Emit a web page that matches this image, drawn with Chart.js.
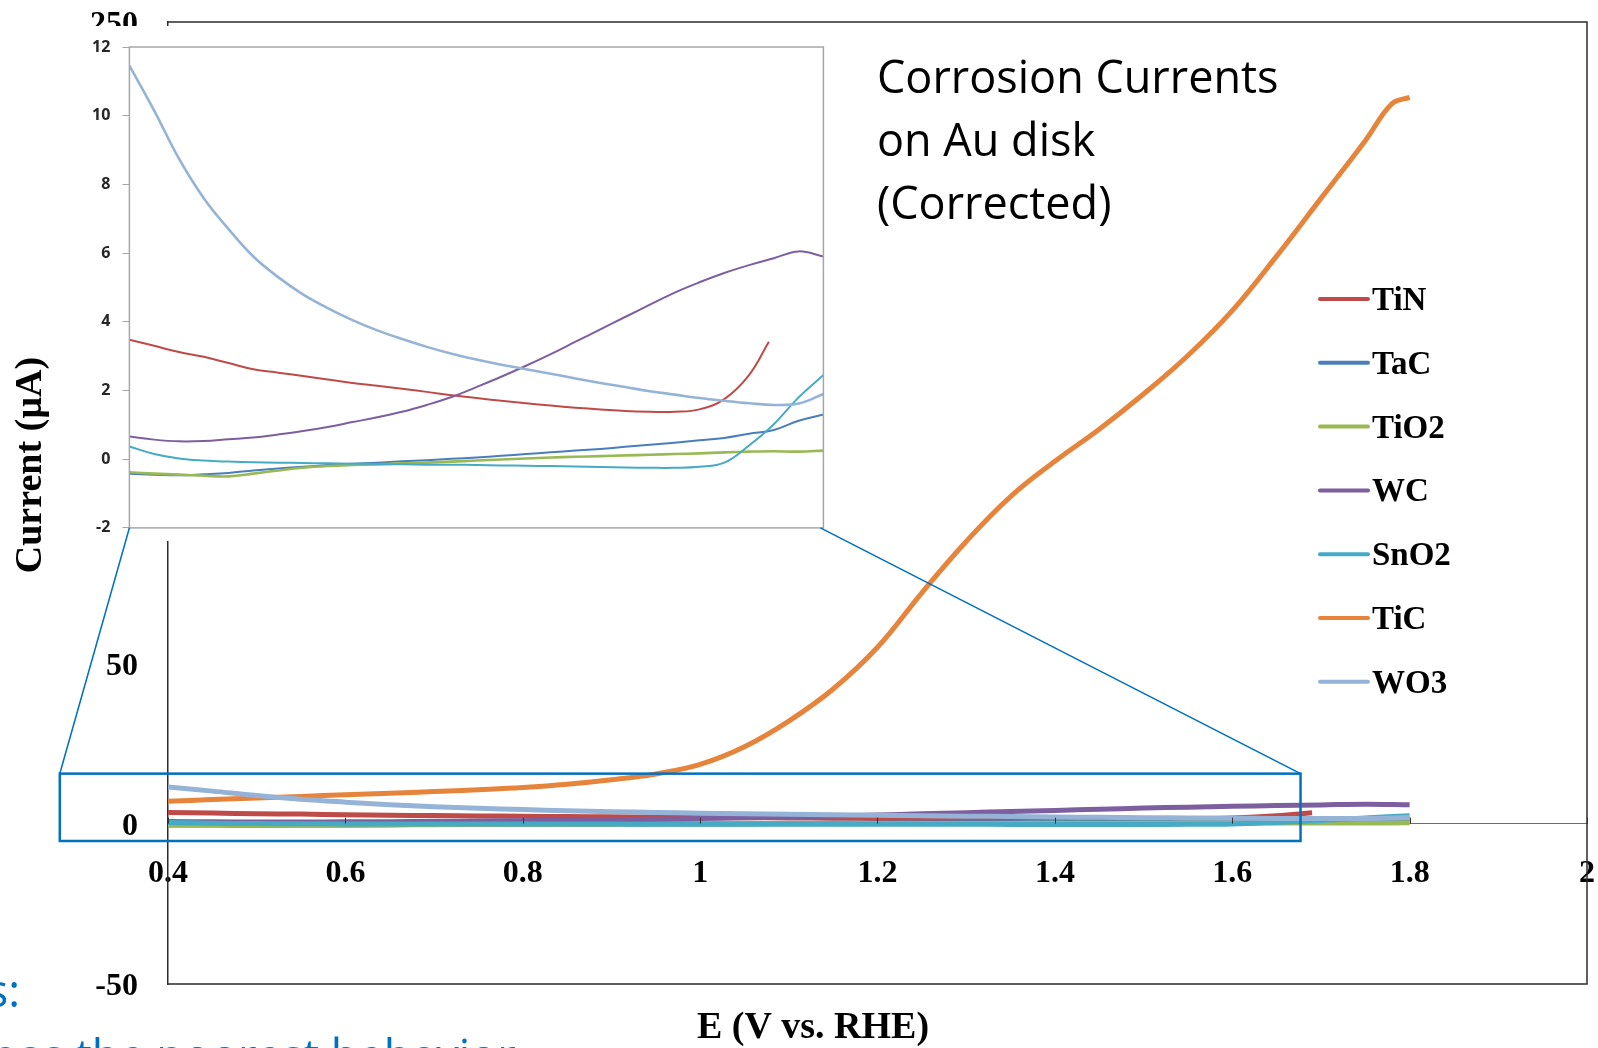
<!DOCTYPE html>
<html>
<head>
<meta charset="utf-8">
<title>Corrosion Currents on Au disk</title>
<script src="https://cdn.jsdelivr.net/npm/chart.js@4.4.1/dist/chart.umd.min.js"></script>
<style>
  html, body { margin: 0; padding: 0; background: #fff; overflow: hidden; }
  #wrap { position: relative; width: 1598px; height: 1048px; }
  #wrap canvas { position: absolute; left: 0; top: 0; }
</style>
</head>
<body>
<div id="wrap">
  <canvas id="main" width="1598" height="1048"></canvas>
  <canvas id="inset" width="1598" height="1048"></canvas>
</div>
<script>
// ---- potential grids (V vs. RHE) ----
const potential = [0.40,0.45,0.50,0.55,0.60,0.65,0.70,0.75,0.80,0.85,0.90,0.95,1.00,1.05,1.10,
                   1.15,1.20,1.25,1.30,1.35,1.40,1.45,1.50,1.55,1.60,1.65,1.70,1.75,1.80];
const potentialTiN = [0.40,0.45,0.50,0.55,0.60,0.65,0.70,0.75,0.80,0.85,0.90,0.95,1.00,1.05,1.10,
                      1.15,1.20,1.25,1.30,1.35,1.40,1.45,1.50,1.55,1.60,1.65,1.69];
const potentialTiC = [0.40,0.45,0.50,0.55,0.60,0.65,0.70,0.75,0.80,0.85,0.90,0.95,1.00,1.05,1.10,
                      1.15,1.20,1.25,1.30,1.35,1.40,1.45,1.50,1.55,1.60,1.65,1.70,1.75,1.78,1.80];

// ---- corrosion currents (µA) ----
const currentTiN  = [3.48,3.30,3.12,2.98,2.80,2.62,2.52,2.42,2.32,2.22,2.14,2.05,1.96,1.86,1.78,
                     1.70,1.63,1.56,1.50,1.45,1.40,1.38,1.38,1.45,1.75,2.45,3.42];
const currentTaC  = [-0.42,-0.45,-0.47,-0.44,-0.40,-0.33,-0.27,-0.22,-0.17,-0.13,-0.10,-0.06,-0.03,0.01,0.05,
                     0.10,0.15,0.20,0.25,0.30,0.36,0.42,0.48,0.55,0.62,0.74,0.85,1.12,1.30];
const currentTiO2 = [-0.38,-0.42,-0.45,-0.48,-0.50,-0.42,-0.33,-0.25,-0.20,-0.17,-0.15,-0.12,-0.10,-0.07,-0.04,
                     -0.01,0.02,0.05,0.07,0.09,0.11,0.13,0.15,0.17,0.20,0.22,0.23,0.22,0.25];
const currentWC   = [0.66,0.57,0.52,0.53,0.58,0.63,0.72,0.82,0.94,1.08,1.22,1.38,1.58,1.81,2.10,
                     2.40,2.72,3.06,3.42,3.78,4.14,4.50,4.85,5.15,5.42,5.65,5.85,6.05,5.90];
const currentSnO2 = [0.37,0.15,0.02,-0.04,-0.07,-0.09,-0.10,-0.11,-0.12,-0.13,-0.14,-0.15,-0.16,-0.16,-0.17,
                     -0.18,-0.19,-0.20,-0.21,-0.23,-0.24,-0.25,-0.25,-0.22,-0.10,0.40,1.02,1.80,2.45];
const currentTiC  = [7.0,7.5,8.0,8.5,9.0,9.5,10.0,10.6,11.3,12.3,13.7,15.5,18.5,24,32,
                     42,55,72,88,102,113,123,134,146,160,177,195,213,224.5,226.5];
const currentWO3  = [11.46,10.15,8.75,7.60,6.70,5.90,5.30,4.80,4.40,4.05,3.75,3.50,3.27,3.07,2.90,
                     2.75,2.62,2.49,2.35,2.22,2.10,1.98,1.88,1.78,1.70,1.63,1.58,1.62,1.90];

// ---- series ----
const seriesNames  = ['TiN', 'TaC', 'TiO2', 'WC', 'SnO2', 'TiC', 'WO3'];
const seriesColors = ['#BE4B48', '#4A7EBB', '#98B954', '#7D5FA0', '#46AAC5', '#E5843A', '#95B3D7'];
const seriesE = [potentialTiN, potential, potential, potential, potential, potentialTiC, potential];
const seriesI = [currentTiN, currentTaC, currentTiO2, currentWC, currentSnO2, currentTiC, currentWO3];

// ---- axis ticks ----
const mainX = { min: 0.4, max: 2.0, step: 0.2 };
const mainY = { min: -50, max: 250, step: 50 };
const insetX = { min: 0.4, max: 1.8 };
const insetY = { min: -2, max: 12, step: 2 };

// region of the main plot that the inset enlarges (data units)
const zoomWindow = { eMin: 0.278, eMax: 1.677, iMin: -5.4, iMax: 15.6 };

const SERIF = '"Liberation Serif", "Times New Roman", serif';
const SANS = '"Open Sans", "Noto Sans", sans-serif';
const BLUE = '#0070C0';
const CLEAR = 'rgba(0,0,0,0)';

function points(i) {
  return seriesE[i].map((e, k) => ({ x: e, y: seriesI[i][k] }));
}

const mainSets = seriesNames.map((name, i) => ({
  label: name,
  data: points(i),
  borderColor: seriesColors[i],
  backgroundColor: seriesColors[i],
  borderWidth: 5,
  order: seriesNames.length - i
}));

const insetSets = seriesNames
  .map((name, i) => ({
    label: name,
    data: points(i),
    borderColor: seriesColors[i],
    backgroundColor: seriesColors[i],
    borderWidth: (name === 'WO3' || name === 'TiO2') ? 2.6 : 2,
    order: seriesNames.length - i
  }))
  .filter(d => d.label !== 'TiC');

// frame, inner x ticks, zoom window, legend and free text of the main plot
const mainDecor = {
  id: 'mainDecor',
  afterDatasetsDraw(chart) {
    const { ctx, chartArea: a, scales: { x, y } } = chart;
    ctx.save();
    ctx.strokeStyle = '#2b2b2b';
    ctx.lineWidth = 1.5;
    ctx.beginPath();
    ctx.moveTo(a.left, a.top);
    ctx.lineTo(a.right, a.top);
    ctx.lineTo(a.right, a.bottom);
    ctx.lineTo(a.left, a.bottom);
    ctx.stroke();

    // short tick marks pointing up from the zero line
    const y0 = y.getPixelForValue(0);
    ctx.strokeStyle = '#333';
    ctx.lineWidth = 1;
    ctx.beginPath();
    x.ticks.forEach(t => {
      const px = Math.round(x.getPixelForValue(t.value)) + 0.5;
      ctx.moveTo(px, y0);
      ctx.lineTo(px, y0 - 6);
    });
    ctx.stroke();

    const l = x.getPixelForValue(zoomWindow.eMin), r = x.getPixelForValue(zoomWindow.eMax);
    const t = y.getPixelForValue(zoomWindow.iMax), b = y.getPixelForValue(zoomWindow.iMin);
    ctx.strokeStyle = BLUE;
    ctx.lineWidth = 2.5;
    ctx.strokeRect(l, t, r - l, b - t);
    ctx.restore();
  },
  afterDraw(chart) {
    const { ctx } = chart;
    ctx.save();
    // legend
    ctx.font = 'bold 33px ' + SERIF;
    ctx.textAlign = 'left';
    ctx.textBaseline = 'alphabetic';
    chart.data.datasets.forEach((ds, i) => {
      const cy = 299 + i * 63.8;
      ctx.strokeStyle = ds.borderColor;
      ctx.lineWidth = 4;
      ctx.lineCap = 'round';
      ctx.beginPath();
      ctx.moveTo(1320, cy);
      ctx.lineTo(1368, cy);
      ctx.stroke();
      ctx.fillStyle = '#000';
      ctx.fillText(ds.label, 1372, cy + 11);
    });

    // axis titles
    ctx.fillStyle = '#000';
    ctx.font = 'bold 38px ' + SERIF;
    ctx.textAlign = 'center';
    ctx.textBaseline = 'middle';
    ctx.fillText('E (V vs. RHE)', 813, 1028);
    ctx.save();
    ctx.translate(31, 465);
    ctx.rotate(-Math.PI / 2);
    ctx.fillText('Current (\u00B5A)', 0, 0);
    ctx.restore();

    // chart title
    ctx.font = '45px ' + SANS;
    ctx.textAlign = 'left';
    ctx.textBaseline = 'alphabetic';
    ctx.fillText('Corrosion Currents', 877, 93);
    ctx.fillText('on Au disk', 877, 156);
    ctx.fillText('(Corrected)', 877, 219);

    // slide notes
    ctx.fillStyle = BLUE;
    ctx.textAlign = 'right';
    ctx.fillText('s:', 20, 1007);
    ctx.textAlign = 'left';
    ctx.fillText('has the poorest behavior', -10, 1072);
    ctx.restore();
  }
};

const mainChart = new Chart(document.getElementById('main'), {
  type: 'line',
  data: { datasets: mainSets },
  options: {
    responsive: false,
    animation: false,
    devicePixelRatio: 1,
    layout: { padding: { top: 22, right: 11, bottom: 64, left: 0 } },
    plugins: { legend: { display: false }, tooltip: { enabled: false } },
    elements: { point: { radius: 0 }, line: { tension: 0.4 } },
    scales: {
      x: {
        type: 'linear', min: mainX.min, max: mainX.max, position: { y: 0 },
        ticks: { stepSize: mainX.step, autoSkip: false, maxRotation: 0, padding: 0, color: '#000',
                 callback: v => String(Number(v.toFixed(1))),
                 font: { family: SERIF, size: 32, weight: 'bold' } },
        grid: { display: true, drawOnChartArea: false, drawTicks: true, tickLength: 31, tickColor: CLEAR },
        border: { display: true, color: '#6e6e6e', width: 1 }
      },
      y: {
        type: 'linear', min: mainY.min, max: mainY.max, position: 'left',
        afterFit(scale) { scale.width = 168; },
        ticks: { stepSize: mainY.step, padding: 0, labelOffset: 3, color: '#000',
                 font: { family: SERIF, size: 32, weight: 'bold' } },
        grid: { display: true, drawOnChartArea: false, drawTicks: true, tickLength: 30, tickColor: CLEAR },
        border: { display: true, color: '#2b2b2b', width: 1.5 }
      }
    }
  },
  plugins: [mainDecor]
});

// inset panel: white card, border and the lines tying it to the zoom window
const insetDecor = {
  id: 'insetDecor',
  beforeDraw(chart) {
    const { ctx, chartArea: a } = chart;
    ctx.save();
    ctx.fillStyle = '#fff';
    ctx.fillRect(a.left - 51, a.top - 21, a.right - a.left + 58, a.bottom - a.top + 34);
    ctx.restore();
  },
  afterDraw(chart) {
    const { ctx, chartArea: a } = chart;
    ctx.save();
    ctx.strokeStyle = '#a6a6a6';
    ctx.lineWidth = 1.5;
    ctx.strokeRect(a.left, a.top, a.right - a.left, a.bottom - a.top);

    const mx = mainChart.scales.x, my = mainChart.scales.y;
    const zl = mx.getPixelForValue(zoomWindow.eMin), zr = mx.getPixelForValue(zoomWindow.eMax);
    const zt = my.getPixelForValue(zoomWindow.iMax);
    ctx.strokeStyle = BLUE;
    ctx.lineWidth = 1.6;
    ctx.beginPath();
    ctx.moveTo(a.left, a.bottom);
    ctx.lineTo(zl, zt);
    ctx.moveTo(a.right - 3, a.bottom);
    ctx.lineTo(zr, zt);
    ctx.stroke();
    ctx.restore();
  }
};

new Chart(document.getElementById('inset'), {
  type: 'line',
  data: { datasets: insetSets },
  options: {
    responsive: false,
    animation: false,
    devicePixelRatio: 1,
    layout: { padding: { top: 47, right: 774.6, bottom: 520.1, left: 0 } },
    plugins: { legend: { display: false }, tooltip: { enabled: false } },
    elements: { point: { radius: 0 }, line: { tension: 0.4 } },
    scales: {
      x: { type: 'linear', min: insetX.min, max: insetX.max, display: false },
      y: {
        type: 'linear', min: insetY.min, max: insetY.max, position: 'left',
        afterFit(scale) { scale.width = 129.4; },
        ticks: { stepSize: insetY.step, padding: 12, color: '#262626',
                 font: { family: SANS, size: 16, weight: 'bold' } },
        grid: { display: true, drawOnChartArea: false, drawTicks: true, tickLength: 7,
                tickColor: '#a6a6a6', lineWidth: 1 },
        border: { display: false }
      }
    }
  },
  plugins: [insetDecor]
});
</script>
</body>
</html>
